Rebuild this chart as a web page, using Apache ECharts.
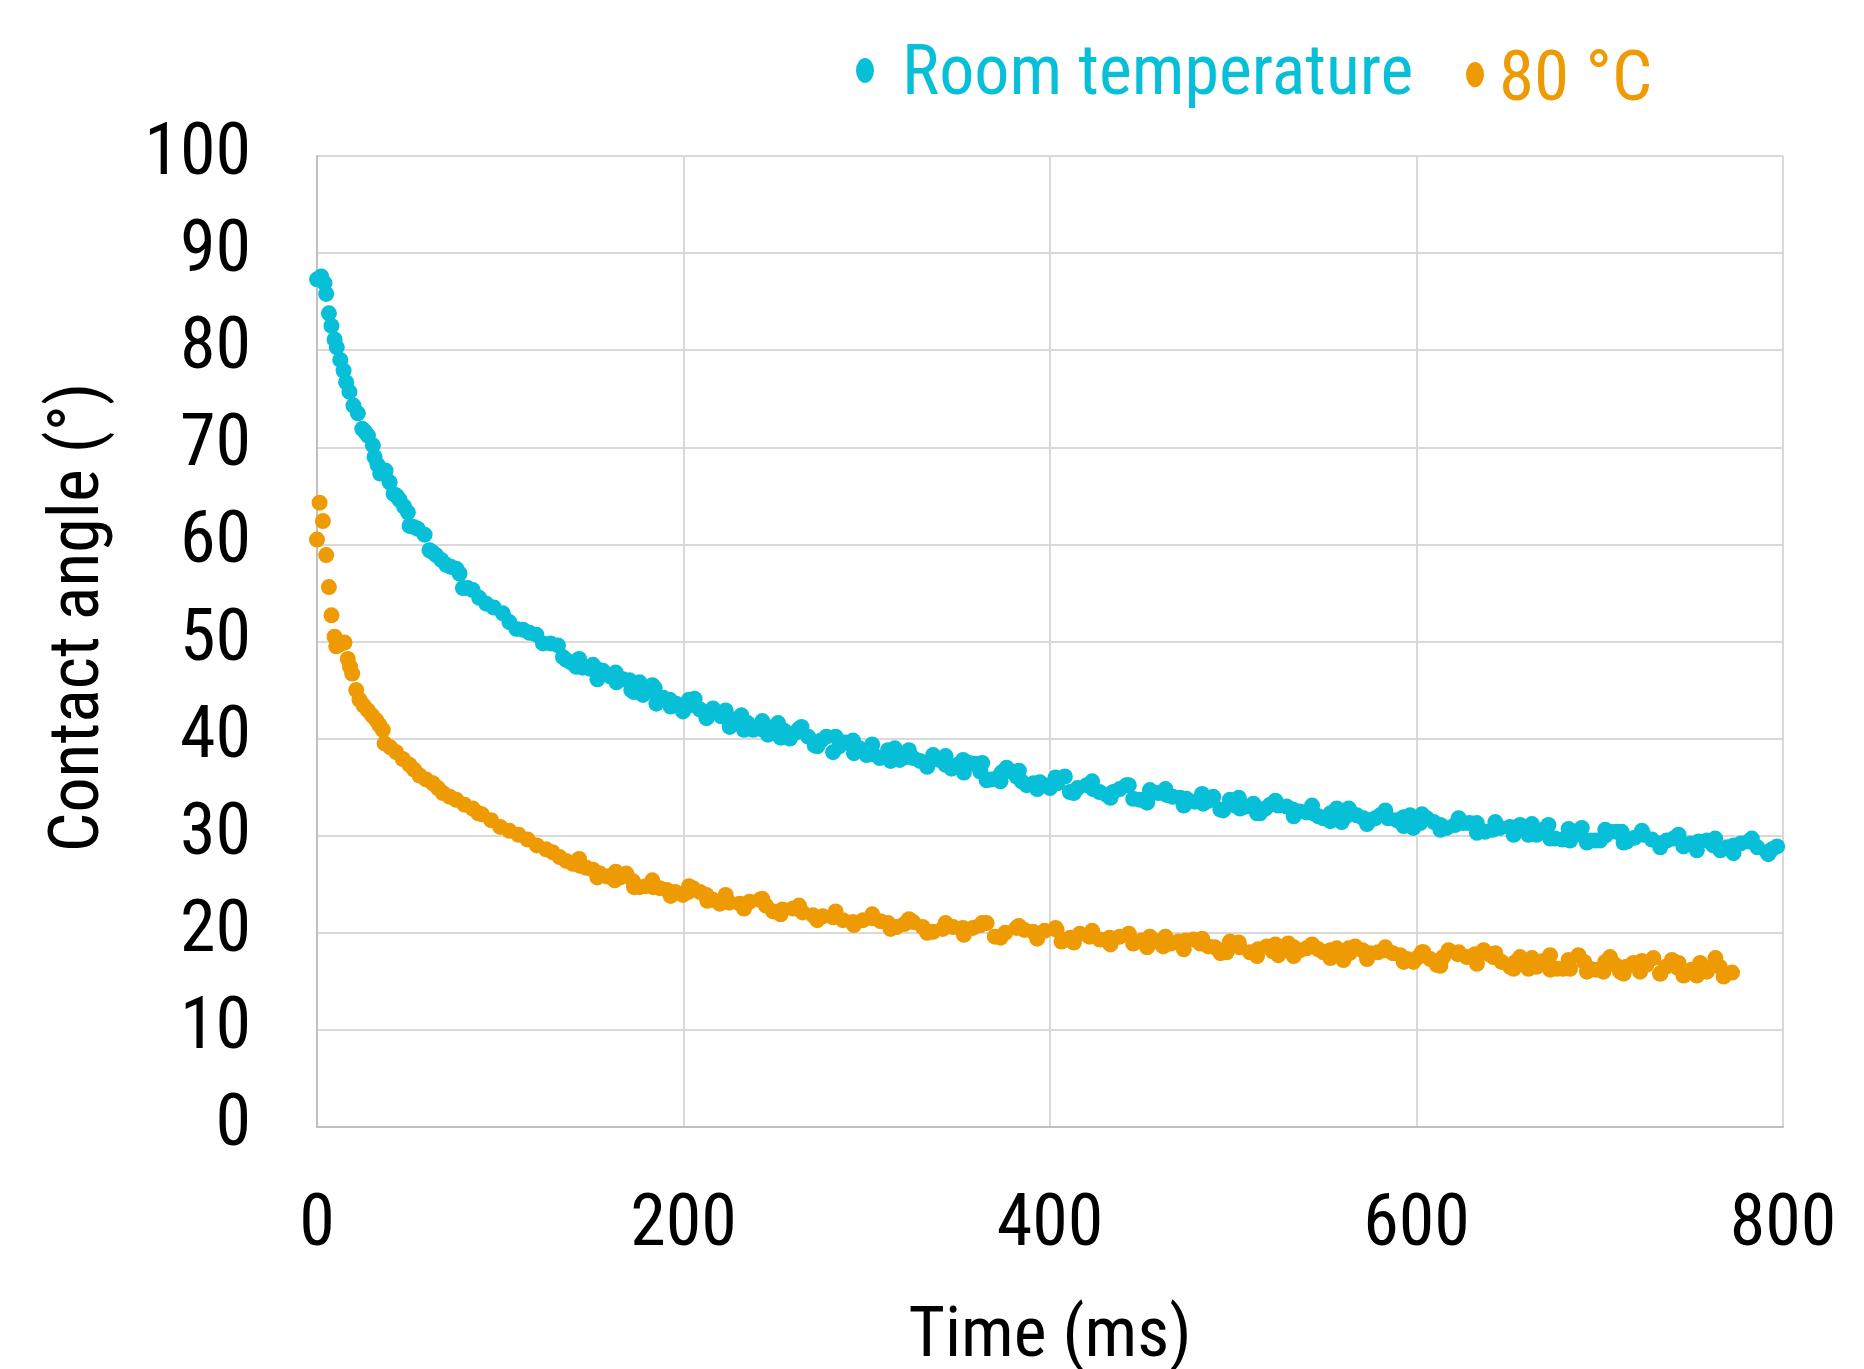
<!DOCTYPE html>
<html>
<head>
<meta charset="utf-8">
<script src="https://cdn.jsdelivr.net/npm/echarts@6/dist/echarts.min.js"></script>
<style>
html,body{margin:0;padding:0;background:#fff;}
#chart{width:1864px;height:1369px;}
</style>
</head>
<body>
<div id="chart"></div>
<script>
// ---- data ----
const seriesNames = ['Room temperature', '80 °C'];
const xTicks = [0, 200, 400, 600, 800];
const yTicks = [0, 10, 20, 30, 40, 50, 60, 70, 80, 90, 100];

// Room temperature: readings along the band
const rtTime = [
0, 2.3, 4.1, 5, 6.5, 7.9, 9.6, 10.8, 12.7, 14.5,
15.9, 17.7, 19.9, 22.3, 24.7, 26.2, 27.8, 30.5, 31.4, 33,
34.5, 37.4, 39.6, 41.8, 43.5, 45, 47.5, 49.6, 50.5, 52.8,
55, 58.7, 61.4, 63, 65, 67.8, 70.5, 73, 76, 77.8,
79.6, 82.3, 85, 88.5, 92.4, 96.5, 101.4, 105, 108.8, 112.5,
116, 119.7, 123.3, 127.5, 131.5, 134.2, 136, 139, 141.5, 145,
148.8, 150.6, 153.5, 156, 160, 163.4, 167, 170.6, 171.5, 174,
176, 177.9, 181, 184.3, 185.2, 189, 192.5, 196, 199.7, 203,
206.1, 209, 212.5, 216.1, 220.5, 225.2, 228.5, 231.6, 235, 238,
242, 246.1, 249, 251.6, 255, 258, 261, 264.4, 268, 271.6,
275, 278, 281.6, 285, 288.5, 292.5, 296, 299.9, 303.5, 307.1,
311.6, 315.3, 318, 321.5, 325.3, 329, 332.6, 336.2, 339.5, 343,
346.3, 349.5, 352.6, 356, 359, 362, 365.4, 368, 370.8, 373.5,
376.3, 379, 381.8, 384.5, 387.2, 391, 394.5, 397, 400, 404,
408.1, 410.8, 415, 420, 423.5, 427, 430.9, 434.5, 438, 441.8,
445.4, 449, 452.7, 454.5, 459, 463.6, 467, 471, 474.5, 479,
483.6, 486.5, 489.1, 494.5, 498.2, 501, 503.7, 507, 511, 514.6,
517.5, 520.1, 524.5, 529.2, 532.5, 536.4, 540, 543.7, 546.5, 549.2,
553, 556.5, 559.2, 561.5, 563.8, 567.5, 571, 574.7, 577.5, 580.1,
584.5, 589.2, 593, 596.5, 598.3, 602, 605.6, 609.5, 613, 616.5,
621, 625.6, 629, 632.9, 637.4, 641.5, 645.6, 651, 656.5, 661.1,
665.6, 669, 672, 675.6, 679.5, 683.8, 687, 690.2, 694.7, 697.5,
700.1, 703, 705.6, 709, 712, 714.7, 719, 723.8, 728.5, 733,
736.5, 740.2, 745.7, 749.5, 754, 758.5, 762, 765.8, 769.5, 773.1,
777, 781.2, 786, 791.3, 794, 796.8
];
const rtAngle = [
87.3, 87.6, 86.9, 85.8, 83.8, 82.5, 81.1, 80.3, 79, 77.9,
76.7, 75.7, 74.3, 73.5, 71.9, 71.6, 71.2, 70.2, 69, 68.2,
67.3, 67.6, 66.4, 65.2, 65, 64.6, 63.9, 63.3, 61.9, 61.8,
61.6, 61, 59.4, 59.2, 58.9, 58.4, 57.9, 57.7, 57.5, 57,
55.5, 55.5, 55.3, 54.5, 53.9, 53.5, 52.9, 52, 51.3, 51.2,
50.9, 50.7, 49.8, 49.8, 49.6, 48.4, 48.1, 47.8, 47.4, 47.3,
47.2, 47.6, 47.1, 47, 46.4, 45.8, 46.1, 46, 45, 45.6,
45.8, 44.5, 44.9, 45.2, 43.6, 44.2, 44, 43.6, 42.8, 43.4,
44.1, 43, 42.1, 43.1, 42.3, 41.2, 42, 42.4, 41.6, 40.9,
41, 40.4, 41.2, 41.6, 40.8, 40, 40.6, 41.2, 40.2, 39.3,
39.8, 40.2, 38.6, 39.2, 39.6, 39.8, 39, 38.3, 38.4, 38,
38.8, 39, 37.8, 38.1, 38, 37.7, 37.4, 38.3, 37.8, 37.3,
36.9, 37.3, 37.8, 37.5, 37.4, 36.6, 35.7, 35.8, 35.9, 36.5,
37, 36.6, 36.1, 35.6, 35.2, 35.4, 35.5, 35.2, 34.9, 35.4,
36.1, 34.5, 34.9, 35.2, 34.8, 34.5, 34.2, 34.5, 34.8, 35.2,
33.8, 33.7, 33.5, 34.7, 34.4, 34.2, 34, 33.9, 33.8, 33.5,
33.3, 33.6, 34, 32.6, 33.7, 33.1, 32.8, 33, 33.3, 32.3,
32.8, 33.2, 33.1, 33, 32.7, 32.5, 32.4, 32.3, 32, 31.8,
32.3, 32.8, 31.4, 32, 32.5, 32.1, 31.8, 31.6, 31.8, 32.1,
31.8, 31.6, 31.9, 32.1, 30.8, 31.3, 31.8, 31.4, 31.1, 30.8,
31.1, 31.3, 31.3, 31.3, 30.4, 30.6, 30.8, 30.9, 31.1, 30.1,
30.1, 30.6, 31.1, 29.7, 29.6, 29.5, 30.1, 30.8, 29.5, 29.5,
29.5, 30, 30.4, 30.4, 30.4, 29.4, 29.8, 30.1, 29.6, 29.2,
29.5, 29.7, 28.9, 29.2, 29.4, 29.5, 29, 28.5, 28.8, 29,
29.2, 29.4, 28.8, 28.3, 28.6, 28.9
];
// Room temperature: further readings at the upper / lower edge of the band
const rtTimeEdge = [
143, 153, 163, 173, 183, 193, 203, 213, 223, 233,
243, 253, 263, 273, 283, 293, 303, 313, 323, 333,
343, 353, 363, 373, 383, 393, 403, 413, 423, 433,
443, 453, 463, 473, 483, 493, 503, 513, 523, 533,
543, 553, 563, 573, 583, 593, 603, 613, 623, 633,
643, 653, 663, 673, 683, 693, 703, 713, 723, 733,
743, 753, 763, 773, 783, 792
];
const rtAngleEdge = [
48.2, 46.1, 46.8, 44.8, 45.5, 43.3, 44.0, 42.2, 42.9, 40.9,
41.8, 40.1, 41.0, 39.2, 40.2, 38.5, 39.4, 37.7, 38.8, 37.1,
38.2, 36.5, 37.5, 35.6, 36.7, 34.8, 36.0, 34.4, 35.6, 33.9,
35.2, 33.4, 34.8, 33.1, 34.3, 32.7, 33.9, 32.3, 33.6, 32.0,
33.1, 31.5, 32.8, 31.2, 32.6, 31.0, 32.2, 30.6, 31.8, 30.3,
31.4, 30.1, 31.2, 29.7, 30.7, 29.3, 30.6, 29.3, 30.5, 28.8,
30.1, 28.5, 29.7, 28.2, 29.7, 28.1
];

// 80 °C: readings along the band
const hotTime = [
0, 1.4, 3.2, 5, 6.5, 7.9, 9.6, 10.5, 12.5, 15,
16.8, 18, 19.2, 21.4, 23.2, 25.5, 27.8, 30, 32.3, 34,
35.9, 36.9, 40, 43.2, 46.8, 50.5, 53, 56, 59.5, 63.2,
66, 68.7, 72.5, 76, 80.5, 85, 88, 90, 95, 100,
105, 110, 115, 120, 125, 128.5, 132.4, 136, 139.7, 143.5,
147, 150.6, 154.5, 158.5, 162.4, 165.5, 168.8, 172.5, 176.1, 179.5,
183.5, 187, 191, 195.5, 199.7, 202.5, 205.2, 209, 212.5, 216,
219.8, 225, 230.7, 236, 241.6, 245, 248.9, 254, 259.8, 265,
270.7, 276, 281.6, 287, 292.5, 298, 303.4, 307.5, 311.6, 316.2,
320.5, 325.3, 330.5, 336.2, 341.5, 347.1, 352.5, 358, 362, 365.4,
369.9, 375.5, 381.7, 386, 390.8, 397, 403.6, 406.3, 411, 416.3,
421.5, 427.2, 432.5, 438.1, 445.4, 450, 454.5, 458, 461.8, 466,
470, 474, 478.2, 482, 486.4, 490, 493, 496.4, 498.2, 503.5,
509.1, 513.5, 518.2, 521.5, 524.6, 527, 530, 533, 536.4, 540,
543.7, 546.5, 549.2, 553, 556.5, 560.1, 563.5, 566.5, 570.5, 574.7,
579, 582.9, 587, 591.1, 595, 598.3, 601, 603.8, 607.5, 611.1,
614.5, 617.5, 622.5, 627.5, 632, 636.6, 639.5, 642, 646.5, 651.1,
654, 656.5, 658.3, 661.1, 665.6, 669, 672.9, 676.6, 680, 683.8,
688.4, 691.5, 694.7, 698, 702, 705.6, 708.5, 711.1, 714.5, 718.4,
722, 725.5, 729.3, 733, 736, 739.4, 742.5, 745.7, 750, 754.8,
758.5, 763.1, 765.5, 767.6, 772.2
];
const hotAngle = [
60.5, 64.3, 62.4, 58.9, 55.6, 52.7, 50.5, 49.5, 49.7, 49.9,
48.2, 47.4, 46.7, 45, 44, 43.4, 42.9, 42.4, 41.9, 41.4,
40.9, 39.5, 39.1, 38.6, 37.9, 37.3, 36.8, 36.2, 35.8, 35.4,
34.9, 34.4, 34, 33.7, 33.2, 32.8, 32.3, 32.2, 31.6, 30.9,
30.5, 30.1, 29.6, 29, 28.6, 28.3, 27.8, 27.4, 27.1, 26.9,
26.7, 26.5, 26.1, 25.8, 25.4, 25.7, 26.1, 25.3, 24.7, 24.8,
24.7, 24.6, 24.4, 24.2, 23.9, 24.2, 24.6, 24.2, 23.9, 23.4,
23, 23.1, 23, 23.2, 23.4, 22.8, 22.2, 22.4, 22.5, 22.1,
21.8, 21.7, 21.6, 21.3, 21.1, 21.3, 21.5, 21.2, 21, 20.6,
20.9, 21.1, 20.6, 20.1, 20.4, 20.6, 20.5, 20.5, 20.8, 21,
19.6, 20, 20.5, 20.3, 20.1, 20.2, 20.3, 19.1, 19.5, 19.9,
19.6, 19.3, 19.5, 19.6, 18.9, 19.2, 19.6, 19.1, 18.6, 18.9,
19.1, 19.2, 19.3, 18.9, 18.6, 18.5, 18.2, 18, 19.1, 18.5,
18, 18.3, 18.6, 18.1, 17.7, 18.3, 18.9, 18.5, 18.2, 18.4,
18.6, 18.3, 18, 18.2, 18.4, 17.2, 17.9, 18.6, 18.2, 17.9,
18, 18.2, 17.9, 17.7, 17.3, 17, 17.5, 18, 17.3, 16.7,
17.5, 18.2, 17.8, 17.5, 17.8, 18.2, 17.8, 17.5, 17, 16.5,
17, 17.5, 16.9, 16.3, 16.5, 17.1, 17.7, 16.3, 16.3, 16.3,
17.7, 17, 16.3, 16.2, 16, 17.5, 16.7, 16, 16.5, 16.9,
16, 16.7, 17.4, 15.8, 16.5, 17.2, 16.4, 15.6, 16.2, 16.9,
16, 17.4, 16.5, 15.5, 15.9
];
// 80 °C: further readings at the upper / lower edge of the band
const hotTimeEdge = [
143, 153, 163, 173, 183, 193, 203, 213, 223, 233,
243, 253, 263, 273, 283, 293, 303, 313, 323, 333,
343, 353, 363, 373, 383, 393, 403, 413, 423, 433,
443, 453, 463, 473, 483, 493, 503, 513, 523, 533,
543, 553, 563, 573, 583, 593, 603, 613, 623, 633,
643, 653, 663, 673, 683, 693, 703, 713, 723, 733,
743, 753, 763
];
const hotAngleEdge = [
27.6, 25.7, 26.3, 24.7, 25.4, 23.8, 24.8, 23.3, 23.9, 22.5,
23.5, 21.9, 22.8, 21.3, 22.2, 20.8, 21.9, 20.4, 21.4, 20.0,
21.0, 19.8, 21.0, 19.5, 20.7, 19.4, 20.5, 19.0, 20.2, 18.8,
19.9, 18.5, 19.6, 18.3, 19.4, 17.9, 19.0, 17.6, 18.8, 17.6,
18.8, 17.4, 18.4, 17.3, 18.5, 17.0, 18.0, 16.6, 18.0, 16.8,
17.9, 16.3, 17.4, 16.2, 17.2, 16.0, 17.0, 15.8, 17.1, 15.8,
16.9, 15.6, 16.8
];

// ---- styles ----
const FONT = "'Roboto Condensed', 'Liberation Sans Narrow', 'Arial Narrow', sans-serif";
const CYAN = '#08BFD8';
const ORANGE = '#EE9A02';

function zip(xs, ys) {
  const n = Math.min(xs.length, ys.length);
  const out = [];
  for (let i = 0; i < n; i++) out.push([xs[i], ys[i]]);
  return out;
}

const chart = echarts.init(document.getElementById('chart'), null, {renderer: 'canvas'});
// legend markers: an upright ellipse drawn in the upper part of the icon box
const iconRT = 'path://M50,0A50,50,0,1,1,50,100A50,50,0,1,1,50,0ZM49,145L51,145';
const iconHot = 'path://M50,0A50,50,0,1,1,50,100A50,50,0,1,1,50,0ZM49,163L51,163';

chart.setOption({
  animation: false,
  backgroundColor: '#ffffff',
  legend: [
    {
      data: [{name: seriesNames[0], icon: iconRT, itemStyle: {borderWidth: 0}}],
      left: 851, top: 36,
      itemWidth: 18, itemHeight: 36,
      symbolKeepAspect: false,
      selectedMode: false,
      textStyle: {fontSize: 70, fontFamily: FONT, color: CYAN, padding: [15, 0, 0, 23]}
    },
    {
      data: [{name: seriesNames[1], icon: iconHot, itemStyle: {borderWidth: 0}}],
      left: 1461, top: 42,
      itemWidth: 18, itemHeight: 41,
      symbolKeepAspect: false,
      selectedMode: false,
      textStyle: {fontSize: 71, fontFamily: FONT, color: ORANGE, padding: [26, 0, 0, 10]}
    }
  ],
  grid: {left: 317, right: 81, top: 156, bottom: 242, outerBoundsMode: 'none', containLabel: false},
  xAxis: {
    type: 'value',
    min: xTicks[0], max: xTicks[xTicks.length - 1], interval: 200,
    name: 'Time (ms)', nameLocation: 'middle', nameGap: 176,
    nameTextStyle: {fontSize: 70, fontFamily: FONT, color: '#000'},
    axisLine: {show: true, lineStyle: {color: '#bfbfbf', width: 2}},
    axisTick: {show: false},
    axisLabel: {fontSize: 72, fontFamily: FONT, color: '#000', margin: 64},
    splitLine: {show: true, lineStyle: {color: '#d9d9d9', width: 2}}
  },
  yAxis: {
    type: 'value',
    min: yTicks[0], max: yTicks[yTicks.length - 1], interval: 10,
    name: 'Contact angle (°)', nameLocation: 'middle', nameGap: 202,
    nameTextStyle: {fontSize: 70, fontFamily: FONT, color: '#000', padding: [0, 0, 0, 48]},
    axisLine: {show: true, lineStyle: {color: '#bfbfbf', width: 2}},
    axisTick: {show: false},
    axisLabel: {fontSize: 72, fontFamily: FONT, color: '#000', margin: 66, padding: [19, 0, 0, 0]},
    splitLine: {show: true, lineStyle: {color: '#d9d9d9', width: 2}}
  },
  series: [
    {
      name: seriesNames[0], type: 'scatter',
      symbol: 'circle', symbolSize: 16,
      itemStyle: {color: CYAN, opacity: 1},
      emphasis: {disabled: true},
      data: zip(rtTime, rtAngle).concat(zip(rtTimeEdge, rtAngleEdge))
    },
    {
      name: seriesNames[1], type: 'scatter',
      symbol: 'circle', symbolSize: 16,
      itemStyle: {color: ORANGE, opacity: 1},
      emphasis: {disabled: true},
      data: zip(hotTime, hotAngle).concat(zip(hotTimeEdge, hotAngleEdge))
    }
  ]
});
</script>
</body>
</html>
